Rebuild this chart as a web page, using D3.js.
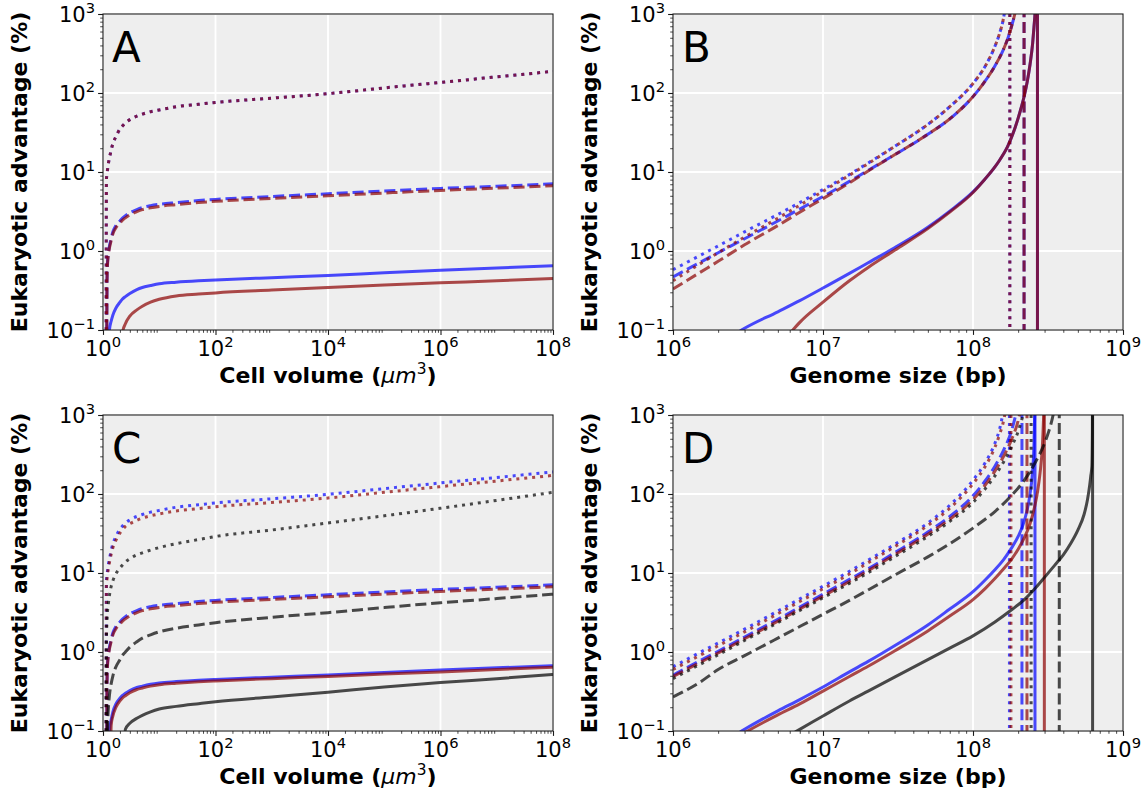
<!DOCTYPE html>
<html><head><meta charset="utf-8">
<script src="https://cdn.jsdelivr.net/npm/d3@7"></script>
<style>
body{margin:0;background:#fff}
text{font-family:"DejaVu Sans",sans-serif;fill:#000}
</style>
</head><body>
<svg id="chart" width="1146" height="799"></svg>
<script>
// ---------------- DATA ----------------
// Panels A & C : x = cell volume (um^3), y = eukaryotic advantage (%)
// (values of 0.01 = below the plotted range)
const volumeX = [1.1, 1.13, 1.15, 1.18, 1.2, 1.25, 1.3, 1.4, 1.5, 1.7, 2, 2.2, 2.5, 3, 4, 5, 7, 10, 20, 50, 100, 1e3, 1e4, 1e5, 1e6, 1e7, 1e8];

const aSolidBlue  = [0.01,0.01,0.01,0.01,0.01,0.01,0.1,0.13,0.155,0.19,0.225,0.245,0.265,0.29,0.325,0.345,0.365,0.385,0.403,0.42,0.43,0.46,0.49,0.53,0.57,0.61,0.65];
const aSolidRed   = [0.01,0.01,0.01,0.01,0.01,0.01,0.01,0.01,0.01,0.01,0.01,0.09,0.12,0.15,0.18,0.2,0.225,0.245,0.27,0.285,0.295,0.32,0.345,0.37,0.395,0.42,0.45];
const aDashBlue   = [0.01,0.01,0.01,0.45,0.7,0.95,1.15,1.45,1.75,2.1,2.4,2.6,2.8,3.05,3.35,3.55,3.75,3.9,4.1,4.35,4.5,4.9,5.3,5.75,6.2,6.6,7.1];
const aDashRed    = [0.01,0.01,0.01,0.42,0.65,0.9,1.08,1.36,1.65,1.97,2.26,2.44,2.63,2.87,3.15,3.34,3.52,3.67,3.86,4.1,4.25,4.62,5.0,5.42,5.85,6.25,6.7];
const aDotBlue    = [0.01,0.01,8,9.5,10.5,13,15,19,23,28,35,38,42,46,51,54,58,61,67,72,76,86,98,116,136,160,188];
const aDotRed     = [0.01,0.01,8,9.5,10.5,13,15,19,23,28,35,38,42,46,51,54,58,61,67,72,76,86,98,116,136,160,188];

const cSolidBlue  = [0.01,0.01,0.01,0.01,0.01,0.01,0.1,0.14,0.175,0.22,0.26,0.28,0.3,0.325,0.355,0.37,0.39,0.405,0.422,0.44,0.45,0.48,0.51,0.55,0.59,0.63,0.67];
const cSolidRed   = [0.01,0.01,0.01,0.01,0.01,0.01,0.01,0.12,0.155,0.2,0.24,0.26,0.28,0.305,0.335,0.35,0.37,0.385,0.402,0.42,0.43,0.46,0.49,0.525,0.56,0.6,0.64];
const cSolidGray  = [0.01,0.01,0.01,0.01,0.01,0.01,0.01,0.01,0.01,0.01,0.01,0.01,0.105,0.125,0.145,0.158,0.175,0.19,0.205,0.222,0.235,0.27,0.31,0.36,0.41,0.46,0.52];
const cDashBlue   = [0.01,0.01,0.01,0.45,0.7,0.95,1.15,1.45,1.75,2.1,2.4,2.6,2.8,3.05,3.35,3.55,3.75,3.9,4.1,4.35,4.5,4.9,5.3,5.75,6.2,6.6,7.1];
const cDashRed    = [0.01,0.01,0.01,0.42,0.65,0.9,1.08,1.36,1.65,1.97,2.26,2.44,2.63,2.87,3.15,3.34,3.52,3.67,3.86,4.1,4.25,4.62,5.0,5.42,5.85,6.25,6.7];
const cDashGray   = [0.01,0.01,0.01,0.01,0.1,0.2,0.28,0.4,0.5,0.65,0.8,0.9,1.0,1.15,1.35,1.5,1.65,1.8,2.0,2.2,2.35,2.75,3.15,3.65,4.2,4.75,5.4];
const cDotBlue    = [0.01,0.01,8,9.5,10.5,13,15,19.5,23.5,29,36,39,43,47,52,55,59,62,68,73,77,87,99,117,138,162,190];
const cDotRed     = [0.01,0.01,7,8.5,9.5,11.5,13.5,17.5,21,26,32,35,39,42,46.5,49.5,53,56,61,65.5,69,78,89,105,124,146,172];
const cDotGray    = [0.01,0.01,1.5,2.5,3.2,4.2,5.2,6.8,8.0,9.8,11.5,12.5,13.8,15.2,17,18,19.5,21,23.5,26.5,29,35,43,53,66,83,105];

// Panels B & D : x = genome size (bp); each curve diverges and then drops at a pole
const bSolidBlueX = [2.5e6,3e6,5e6,7e6,1e7,1.5e7,2e7,3e7,5e7,7e7,1e8,1.2e8,1.4e8,1.5e8,1.6e8,1.7e8,1.8e8,1.9e8,2e8,2.1e8,2.2e8,2.3e8,2.4e8,2.5e8,2.55e8,2.6e8,2.63e8];
const bSolidBlueY = [0.085,0.105,0.17,0.235,0.34,0.52,0.71,1.1,2.0,3.2,5.6,8.1,11.6,14,17,21,27,35.5,48,66,93,140,230,430,680,1150,2000];
const bSolidRedX  = [5e6,6e6,7e6,1e7,1.5e7,2e7,3e7,5e7,7e7,1e8,1.2e8,1.4e8,1.5e8,1.6e8,1.7e8,1.8e8,1.9e8,2e8,2.1e8,2.2e8,2.3e8,2.4e8,2.5e8,2.55e8,2.6e8,2.63e8];
const bSolidRedY  = [0.06,0.09,0.125,0.225,0.42,0.62,1.02,1.92,3.1,5.5,8.1,11.6,14,17,21,27,35.5,48,66,93,140,230,430,680,1150,2000];
const bDashX      = [1e6,1.5e6,2e6,3e6,5e6,7e6,1e7,1.5e7,2e7,3e7,5e7,7e7,1e8,1.2e8,1.4e8,1.6e8,1.7e8,1.8e8,1.9e8,2e8];
const bDashBlueY  = [0.47,0.71,0.95,1.43,2.4,3.4,4.9,7.6,10.5,16.5,30,47,90,140,220,360,480,680,1000,1600];
const bDashRedY   = [0.33,0.53,0.74,1.2,2.1,3.1,4.6,7.3,10.3,16.5,30,47,90,140,220,360,480,680,1000,1600];
const bDotX       = [1e6,1.5e6,2e6,3e6,5e6,7e6,1e7,1.5e7,2e7,3e7,5e7,7e7,1e8,1.2e8,1.4e8,1.5e8,1.6e8,1.65e8];
const bDotBlueY   = [0.58,0.87,1.16,1.75,2.9,4.1,6.0,9.3,13,21,40,67,132,215,390,560,900,1300];
const bDotRedY    = [0.42,0.68,0.95,1.5,2.6,3.8,5.7,9.1,12.8,21,40,67,132,215,390,560,900,1300];
const bPoles      = {solid: 2.69e8, dashed: 2.19e8, dotted: 1.76e8};

const dSolidBlueX = [2.5e6,3e6,5e6,7e6,1e7,1.5e7,2e7,3e7,5e7,7e7,1e8,1.2e8,1.4e8,1.6e8,1.8e8,2e8,2.2e8,2.4e8,2.5e8,2.55e8,2.58e8];
const dSolidBlueY = [0.085,0.105,0.18,0.25,0.36,0.56,0.76,1.2,2.2,3.5,5.8,8.1,11,14.8,20.5,29,46,100,200,420,1100];
const dSolidRedX  = [2.8e6,3e6,5e6,7e6,1e7,1.5e7,2e7,3e7,5e7,7e7,1e8,1.2e8,1.4e8,1.6e8,1.8e8,2e8,2.2e8,2.4e8,2.6e8,2.7e8,2.8e8,2.9e8,2.95e8,2.98e8];
const dSolidRedY  = [0.088,0.095,0.16,0.22,0.32,0.49,0.66,1.03,1.85,2.85,4.6,6.3,8.5,11.3,14.8,20,28,42,75,110,185,400,850,1600];
const dSolidGrayX = [6.5e6,7e6,1e7,1.5e7,2e7,3e7,5e7,7e7,1e8,1.4e8,1.8e8,2.2e8,2.6e8,3e8,3.5e8,4e8,4.5e8,5e8,5.5e8,5.8e8,6e8,6.1e8,6.2e8,6.25e8,6.26e8];
const dSolidGrayY = [0.097,0.105,0.155,0.24,0.32,0.48,0.8,1.12,1.6,2.4,3.4,4.6,6.4,8.8,12.5,17,24,35,55,85,130,170,220,600,2000];
const dDashBlueX  = [1e6,1.5e6,2e6,3e6,5e6,7e6,1e7,1.5e7,2e7,3e7,5e7,7e7,1e8,1.2e8,1.4e8,1.6e8,1.8e8,1.9e8,2e8];
const dDashBlueY  = [0.51,0.77,1.02,1.55,2.6,3.7,5.4,8.3,11.3,18,33,52,95,145,225,360,620,900,1400];
const dDashRedX   = [1e6,1.5e6,2e6,3e6,5e6,7e6,1e7,1.5e7,2e7,3e7,5e7,7e7,1e8,1.2e8,1.4e8,1.6e8,1.8e8,2e8,2.1e8];
const dDashRedY   = [0.49,0.73,0.97,1.47,2.45,3.5,5.1,7.8,10.7,17,31,48,85,128,195,300,480,850,1300];
const dDashGrayX  = [1e6,1.5e6,2e6,3e6,5e6,7e6,1e7,1.5e7,2e7,3e7,5e7,7e7,1e8,1.4e8,1.8e8,2.2e8,2.6e8,3e8,3.2e8,3.4e8,3.5e8];
const dDashGrayY  = [0.27,0.41,0.6,0.9,1.5,2.1,3.0,4.5,6.1,9.4,16,23.5,37,60,95,150,250,440,620,950,1250];
const dDotBlueX   = [1e6,1.5e6,2e6,3e6,5e6,7e6,1e7,1.5e7,2e7,3e7,5e7,7e7,1e8,1.2e8,1.4e8,1.5e8,1.55e8,1.6e8];
const dDotBlueY   = [0.65,0.98,1.3,1.95,3.3,4.7,6.8,10.5,14.5,23,43,72,150,245,440,650,850,1200];
const dDotRedX    = [1e6,1.5e6,2e6,3e6,5e6,7e6,1e7,1.5e7,2e7,3e7,5e7,7e7,1e8,1.2e8,1.4e8,1.5e8,1.6e8,1.65e8];
const dDotRedY    = [0.6,0.9,1.2,1.8,3.05,4.35,6.3,9.7,13.5,21.5,40,66,135,220,390,560,850,1150];
const dDotGrayX   = [1e6,1.5e6,2e6,3e6,5e6,7e6,1e7,1.5e7,2e7,3e7,5e7,7e7,1e8,1.2e8,1.4e8,1.6e8,1.8e8,2e8,2.2e8];
const dDotGrayY   = [0.46,0.69,0.92,1.4,2.35,3.35,4.85,7.4,10.1,16,29,45,78,115,170,255,390,620,1150];
const dPoles      = {solidBlue: 2.59e8, solidRed: 2.99e8, solidGray: 6.27e8,
                     dashBlue: 2.12e8, dashRed: 2.29e8, dashGray: 3.76e8,
                     dotBlue: 1.75e8, dotRed: 1.79e8, dotGray: 2.44e8};

// ticks
const volumeTicks = [1e0, 1e2, 1e4, 1e6, 1e8];
const volumeTickExp = ["0", "2", "4", "6", "8"];
const genomeTicks = [1e6, 1e7, 1e8, 1e9];
const genomeTickExp = ["6", "7", "8", "9"];
const advTicks = [1e-1, 1e0, 1e1, 1e2, 1e3];
const advTickExp = ["\u22121", "0", "1", "2", "3"];
const panelLetters = ["A", "B", "C", "D"];
const yLabelText = "Eukaryotic advantage (%)";

// ---------------- STYLE ----------------
const COL = {blue: "#0000ff", red: "#8b0000", gray: "#000000"};
const DASH = {solid: null, dashed: "11.1,4.8", dotted: "3,4.95"};
const LW = 3, ALPHA = 0.7;
const PW = 450, PH = 316;
const layout = [
  {left: 103, top: 14}, {left: 673, top: 14},
  {left: 103, top: 415}, {left: 673, top: 415}
];

const zip = (xs, ys) => xs.map((v, i) => [v, ys[i]]);

const panels = [
  { kind: "volume", series: [
      {d: zip(volumeX, aSolidBlue), c: "blue", s: "solid"},
      {d: zip(volumeX, aDashBlue), c: "blue", s: "dashed"},
      {d: zip(volumeX, aDotBlue), c: "blue", s: "dotted"},
      {d: zip(volumeX, aSolidRed), c: "red", s: "solid"},
      {d: zip(volumeX, aDashRed), c: "red", s: "dashed"},
      {d: zip(volumeX, aDotRed), c: "red", s: "dotted"} ]},
  { kind: "genome", series: [
      {d: zip(bSolidBlueX, bSolidBlueY), c: "blue", s: "solid", pole: bPoles.solid},
      {d: zip(bDashX, bDashBlueY), c: "blue", s: "dashed", pole: bPoles.dashed},
      {d: zip(bDotX, bDotBlueY), c: "blue", s: "dotted", pole: bPoles.dotted},
      {d: zip(bSolidRedX, bSolidRedY), c: "red", s: "solid", pole: bPoles.solid},
      {d: zip(bDashX, bDashRedY), c: "red", s: "dashed", pole: bPoles.dashed},
      {d: zip(bDotX, bDotRedY), c: "red", s: "dotted", pole: bPoles.dotted} ]},
  { kind: "volume", series: [
      {d: zip(volumeX, cSolidBlue), c: "blue", s: "solid"},
      {d: zip(volumeX, cDashBlue), c: "blue", s: "dashed"},
      {d: zip(volumeX, cDotBlue), c: "blue", s: "dotted"},
      {d: zip(volumeX, cSolidRed), c: "red", s: "solid"},
      {d: zip(volumeX, cDashRed), c: "red", s: "dashed"},
      {d: zip(volumeX, cDotRed), c: "red", s: "dotted"},
      {d: zip(volumeX, cSolidGray), c: "gray", s: "solid"},
      {d: zip(volumeX, cDashGray), c: "gray", s: "dashed"},
      {d: zip(volumeX, cDotGray), c: "gray", s: "dotted"} ]},
  { kind: "genome", series: [
      {d: zip(dSolidBlueX, dSolidBlueY), c: "blue", s: "solid", pole: dPoles.solidBlue},
      {d: zip(dDashBlueX, dDashBlueY), c: "blue", s: "dashed", pole: dPoles.dashBlue},
      {d: zip(dDotBlueX, dDotBlueY), c: "blue", s: "dotted", pole: dPoles.dotBlue},
      {d: zip(dSolidRedX, dSolidRedY), c: "red", s: "solid", pole: dPoles.solidRed},
      {d: zip(dDashRedX, dDashRedY), c: "red", s: "dashed", pole: dPoles.dashRed},
      {d: zip(dDotRedX, dDotRedY), c: "red", s: "dotted", pole: dPoles.dotRed},
      {d: zip(dSolidGrayX, dSolidGrayY), c: "gray", s: "solid", pole: dPoles.solidGray},
      {d: zip(dDashGrayX, dDashGrayY), c: "gray", s: "dashed", pole: dPoles.dashGray},
      {d: zip(dDotGrayX, dDotGrayY), c: "gray", s: "dotted", pole: dPoles.dotGray} ]}
];

// ---------------- DRAW ----------------
const svg = d3.select("#chart");
const TICK_FS = 21, EXP_FS = 14.7, LABEL_FS = 22;

function minorTicks(lo, hi) {
  const out = [];
  for (let e = Math.floor(Math.log10(lo)); e < Math.ceil(Math.log10(hi)); e++)
    for (let m = 2; m <= 9; m++) { const v = m * Math.pow(10, e); if (v > lo && v < hi) out.push(v); }
  return out;
}

panels.forEach((p, i) => {
  const {left, top} = layout[i];
  const g = svg.append("g");
  const isVol = p.kind === "volume";
  const x = d3.scaleLog().domain(isVol ? [1, 1e8] : [1e6, 1e9]).range([left, left + PW]);
  const y = d3.scaleLog().domain([0.1, 1000]).range([top + PH, top]);
  const xt = isVol ? volumeTicks : genomeTicks;
  const xe = isVol ? volumeTickExp : genomeTickExp;

  g.append("rect").attr("x", left).attr("y", top).attr("width", PW).attr("height", PH).attr("fill", "#eeeeee");

  // grid
  g.append("g").selectAll("line").data(xt).join("line")
    .attr("x1", d => x(d)).attr("x2", d => x(d)).attr("y1", top).attr("y2", top + PH)
    .attr("stroke", "#fff").attr("stroke-width", 1.8);
  g.append("g").selectAll("line").data(advTicks).join("line")
    .attr("y1", d => y(d)).attr("y2", d => y(d)).attr("x1", left).attr("x2", left + PW)
    .attr("stroke", "#fff").attr("stroke-width", 1.8);

  // curves
  const cid = "clip" + i;
  svg.append("defs").append("clipPath").attr("id", cid).append("rect")
    .attr("x", left).attr("y", top).attr("width", PW).attr("height", PH);
  const cg = g.append("g").attr("clip-path", `url(#${cid})`);
  const line = d3.line().x(d => x(d[0])).y(d => y(d[1])).curve(d3.curveMonotoneX);
  p.series.forEach(s => {
    const path = cg.append("path").attr("d", line(s.d)).attr("fill", "none")
      .attr("stroke", COL[s.c]).attr("stroke-opacity", ALPHA).attr("stroke-width", LW);
    if (DASH[s.s]) path.attr("stroke-dasharray", DASH[s.s]);
    if (s.pole) {
      const vl = cg.append("line").attr("x1", x(s.pole)).attr("x2", x(s.pole))
        .attr("y1", y(2000)).attr("y2", y(0.05))
        .attr("stroke", COL[s.c]).attr("stroke-opacity", ALPHA).attr("stroke-width", LW);
      if (DASH[s.s]) vl.attr("stroke-dasharray", DASH[s.s]);
    }
  });

  // spines
  g.append("rect").attr("x", left).attr("y", top).attr("width", PW).attr("height", PH)
    .attr("fill", "none").attr("stroke", "#1a1a1a").attr("stroke-width", 1.1);

  // axes ticks
  const ax = g.append("g").attr("transform", `translate(0,${top + PH})`)
    .call(d3.axisBottom(x).tickValues(xt).tickSize(4.9).tickFormat(() => ""));
  const axm = g.append("g").attr("transform", `translate(0,${top + PH})`)
    .call(d3.axisBottom(x).tickValues(isVol ? minorTicks(1, 1e8) : minorTicks(1e6, 1e9)).tickSize(2.8).tickFormat(() => ""));
  const ay = g.append("g").attr("transform", `translate(${left},0)`)
    .call(d3.axisLeft(y).tickValues(advTicks).tickSize(4.9).tickFormat(() => ""));
  const aym = g.append("g").attr("transform", `translate(${left},0)`)
    .call(d3.axisLeft(y).tickValues(minorTicks(0.1, 1000)).tickSize(2.8).tickFormat(() => ""));
  [ax, ay].forEach(a => { a.select(".domain").remove(); a.selectAll("line").attr("stroke", "#1a1a1a").attr("stroke-width", 1.1); });
  [axm, aym].forEach(a => { a.select(".domain").remove(); a.selectAll("line").attr("stroke", "#1a1a1a").attr("stroke-width", 0.8); });

  // tick labels
  xt.forEach((v, k) => {
    const t = g.append("text").attr("x", x(v)).attr("y", top + PH + 25.5)
      .attr("text-anchor", "middle").attr("font-size", TICK_FS).text("10");
    t.append("tspan").attr("font-size", EXP_FS).attr("dy", -8.6).text(xe[k]);
  });
  advTicks.forEach((v, k) => {
    const t = g.append("text").attr("x", left - 8).attr("y", y(v) + 7.6)
      .attr("text-anchor", "end").attr("font-size", TICK_FS).text("10");
    t.append("tspan").attr("font-size", EXP_FS).attr("dy", -8.6).text(advTickExp[k]);
  });

  // axis labels
  g.append("text").attr("transform", `translate(${left - 76},${top + PH / 2}) rotate(-90)`)
    .attr("text-anchor", "middle").attr("font-size", LABEL_FS).attr("font-weight", "bold").text(yLabelText);
  const xl = g.append("text").attr("x", left + PW / 2).attr("y", top + PH + 53)
    .attr("text-anchor", "middle").attr("font-size", LABEL_FS).attr("font-weight", "bold");
  if (isVol) {
    xl.append("tspan").text("Cell volume (");
    xl.append("tspan").attr("font-weight", "normal").attr("font-style", "italic").text("\u03bcm");
    xl.append("tspan").attr("font-weight", "normal").attr("font-size", 15.4).attr("dy", -9).text("3");
    xl.append("tspan").attr("dy", 9).text(")");
  } else {
    xl.text("Genome size (bp)");
  }

  // panel letter
  g.append("text").attr("x", left + 9).attr("y", top + 48).attr("font-size", 42).text(panelLetters[i]);
});
</script>
</body></html>
